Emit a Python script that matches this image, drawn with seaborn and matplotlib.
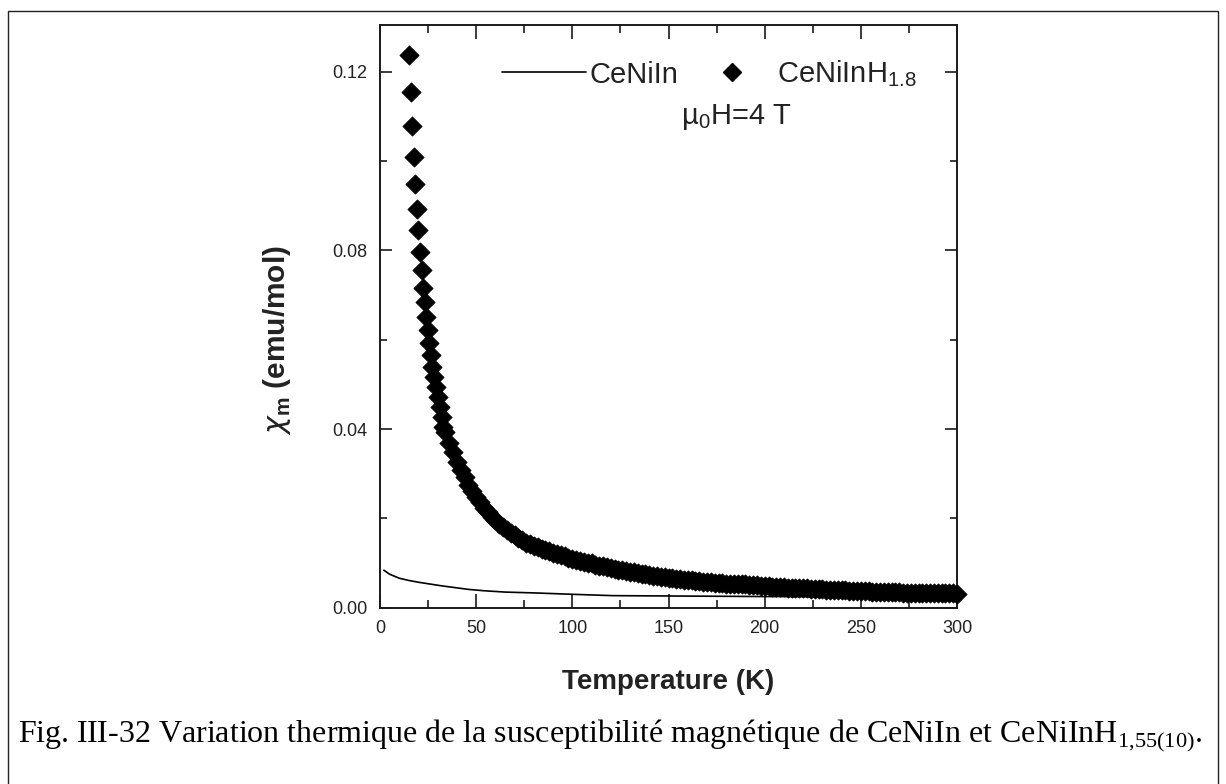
import numpy as np
import matplotlib
matplotlib.use("Agg")
import matplotlib.pyplot as plt
from matplotlib.patches import Rectangle
from matplotlib.lines import Line2D
from matplotlib.ticker import MultipleLocator
import seaborn as sns

# CeNiIn (solid line)
t_ceniin = [2, 5, 10, 15, 20, 26, 32, 39, 46, 54, 65, 81, 100, 121, 160, 200, 250, 300]
chi_ceniin = [0.0084, 0.0075, 0.0066, 0.0061, 0.0057, 0.0053, 0.0049, 0.0045, 0.0041,
              0.0038, 0.0035, 0.0033, 0.0030, 0.0027, 0.0026, 0.0025, 0.0024, 0.0023]

# CeNiInH1.8 (diamonds)
t_hyd = [15.2, 16.0, 16.8, 17.6, 18.4, 19.2, 20.0, 20.8, 21.6, 22.4, 23.2, 24.0, 24.8,
         25.6, 26.4, 27.2, 28.0, 29.0, 30.0, 31.0, 32.0, 33.0,
         34, 36, 38, 40, 42, 44, 46, 48, 50, 52, 54, 56, 58, 60, 62, 64, 66, 68, 70,
         72, 74, 76, 78, 80, 82, 84, 86, 88, 90, 92, 94, 96, 98, 100,
         102, 104, 106, 108, 110, 112, 114, 116, 118, 120, 122, 124, 126, 128, 130,
         132, 134, 136, 138, 140, 142, 144, 146, 148, 150, 152, 154, 156, 158, 160,
         162, 164, 166, 168, 170, 172, 174, 176, 178, 180, 182, 184, 186, 188, 190,
         192, 194, 196, 198, 200, 202, 204, 206, 208, 210, 212, 214, 216, 218, 220,
         222, 224, 226, 228, 230, 232, 234, 236, 238, 240, 242, 244, 246, 248, 250,
         252, 254, 256, 258, 260, 262, 264, 266, 268, 270, 272, 274, 276, 278, 280,
         282, 284, 286, 288, 290, 292, 294, 296, 298, 300]
chi_hyd = [0.1237, 0.1154, 0.1079, 0.1010, 0.0948, 0.0894, 0.0845, 0.0797, 0.0756, 0.0717,
           0.0685, 0.0650, 0.0622, 0.0592, 0.0566, 0.0540, 0.0517, 0.0495, 0.0472, 0.0450,
           0.0428, 0.0405,
           0.0393, 0.0369, 0.0348, 0.0327, 0.0309, 0.0292, 0.0274, 0.0261, 0.0247, 0.0236,
           0.0223, 0.0214, 0.0204, 0.0196, 0.0187, 0.0181, 0.0173, 0.0167, 0.0162, 0.0155,
           0.0151, 0.0146, 0.0142, 0.0138, 0.0136, 0.0132, 0.0129, 0.0126, 0.0123, 0.0120,
           0.0117, 0.0115, 0.0112, 0.0110,
           0.0107, 0.0105, 0.0103, 0.0101, 0.0099, 0.0096, 0.0094, 0.0093, 0.0091, 0.0089,
           0.0087, 0.0085, 0.0084, 0.0083, 0.0081, 0.0079, 0.0078, 0.0076, 0.0075, 0.0073,
           0.0072, 0.0070, 0.0069, 0.0068, 0.0067, 0.0066, 0.0065, 0.0064, 0.0062, 0.0061,
           0.0061, 0.0060, 0.0059, 0.0058, 0.0058, 0.0057, 0.0056, 0.0056, 0.0055, 0.0054,
           0.0054, 0.0053, 0.0053, 0.0052, 0.0052, 0.0051, 0.0050, 0.0050, 0.0049, 0.0048,
           0.0048, 0.0047, 0.0047, 0.0046, 0.0046, 0.0045, 0.0045, 0.0044, 0.0044, 0.0043,
           0.0043, 0.0042, 0.0042, 0.0041, 0.0041, 0.0040, 0.0040, 0.0040, 0.0039, 0.0039,
           0.0039, 0.0038, 0.0038, 0.0037, 0.0037, 0.0037, 0.0037, 0.0036, 0.0036, 0.0036,
           0.0036, 0.0035, 0.0035, 0.0035, 0.0035, 0.0034, 0.0034, 0.0034, 0.0034, 0.0034,
           0.0033, 0.0033, 0.0033, 0.0033, 0.0033, 0.0032, 0.0032, 0.0032, 0.0032, 0.0031]

x_ticks = [0, 50, 100, 150, 200, 250, 300]
y_ticks = [0.00, 0.04, 0.08, 0.12]

sns.set_style("ticks")
plt.rcParams['font.family'] = ['Liberation Sans', 'DejaVu Sans']

fig = plt.figure(figsize=(12.26, 7.84), dpi=100)
ax = fig.add_axes([380 / 1226, 1 - 607.7 / 784, 577 / 1226, 582.7 / 784])

sns.lineplot(x=t_ceniin, y=chi_ceniin, ax=ax, color='black', linewidth=1.2, legend=False)
sns.scatterplot(x=t_hyd, y=chi_hyd, ax=ax, marker='D', s=95, color='black',
                edgecolor='black', linewidth=0.6, legend=False, clip_on=False, zorder=3)

ax.set_xlim(0, 300)
ax.set_ylim(0, 0.1305)
ax.set_xticks(x_ticks)
ax.set_yticks(y_ticks)
ax.set_yticklabels(['%.2f' % v for v in y_ticks])
ax.xaxis.set_minor_locator(MultipleLocator(25))
ax.yaxis.set_minor_locator(MultipleLocator(0.02))

for s in ax.spines.values():
    s.set_linewidth(1.4)
    s.set_color('#1a1a1a')
ax.tick_params(axis='both', which='both', direction='in', top=True, right=True,
               width=1.2, color='#1a1a1a', labelsize=13, labelcolor='#222222')
ax.tick_params(axis='x', which='major', length=10, pad=9)
ax.tick_params(axis='x', which='minor', length=6)
ax.tick_params(axis='y', which='major', length=8.5, pad=9)
ax.tick_params(axis='y', which='minor', length=5)

ax.set_xlabel('Temperature (K)', fontsize=20, fontweight='bold', color='#222222')
ax.xaxis.set_label_coords(0.5, -(669 - 607.7) / 582.7)
ax.set_ylabel(r'$\chi_\mathregular{m}$ (emu/mol)', fontsize=21.5, fontweight='bold', color='#222222')
ax.yaxis.set_label_coords(-0.150, 0.459)

diamond = Line2D([], [], marker='D', linestyle='none', color='black', markersize=9.2)
leg = ax.legend(handles=[ax.lines[0], diamond],
                labels=['CeNiIn', r'CeNiInH$_\mathregular{1.8}$'],
                loc='center left', bbox_to_anchor=(0.211, 0.916), ncol=2,
                frameon=False, fontsize=21, handlelength=2.9, handletextpad=0.1,
                columnspacing=0.4, borderpad=0, borderaxespad=0)
for txt in leg.get_texts():
    txt.set_color('#222222')

ax.text((681 - 380) / 577, (607.7 - 124) / 582.7, r'µ$_\mathregular{0}$H=4 T',
        transform=ax.transAxes, fontsize=21, color='#222222', va='baseline', ha='left')

fig.text(18 / 1226, 1 - 742 / 784,
         r'Fig. III-32 Variation thermique de la susceptibilité magnétique de CeNiIn et CeNiInH$_\mathregular{1{,}55(10)}$.',
         fontsize=23, family=['Liberation Serif', 'DejaVu Serif'], color='black',
         va='baseline', ha='left')

# outer frame of the page figure
fig.add_artist(Rectangle((8.3 / 1226, -0.1), (1218 - 8.3) / 1226, 1.1 - 11 / 784,
                         transform=fig.transFigure, fill=False, linewidth=1.0,
                         edgecolor='#222222', clip_on=False))

fig.savefig('out.png', dpi=100)
